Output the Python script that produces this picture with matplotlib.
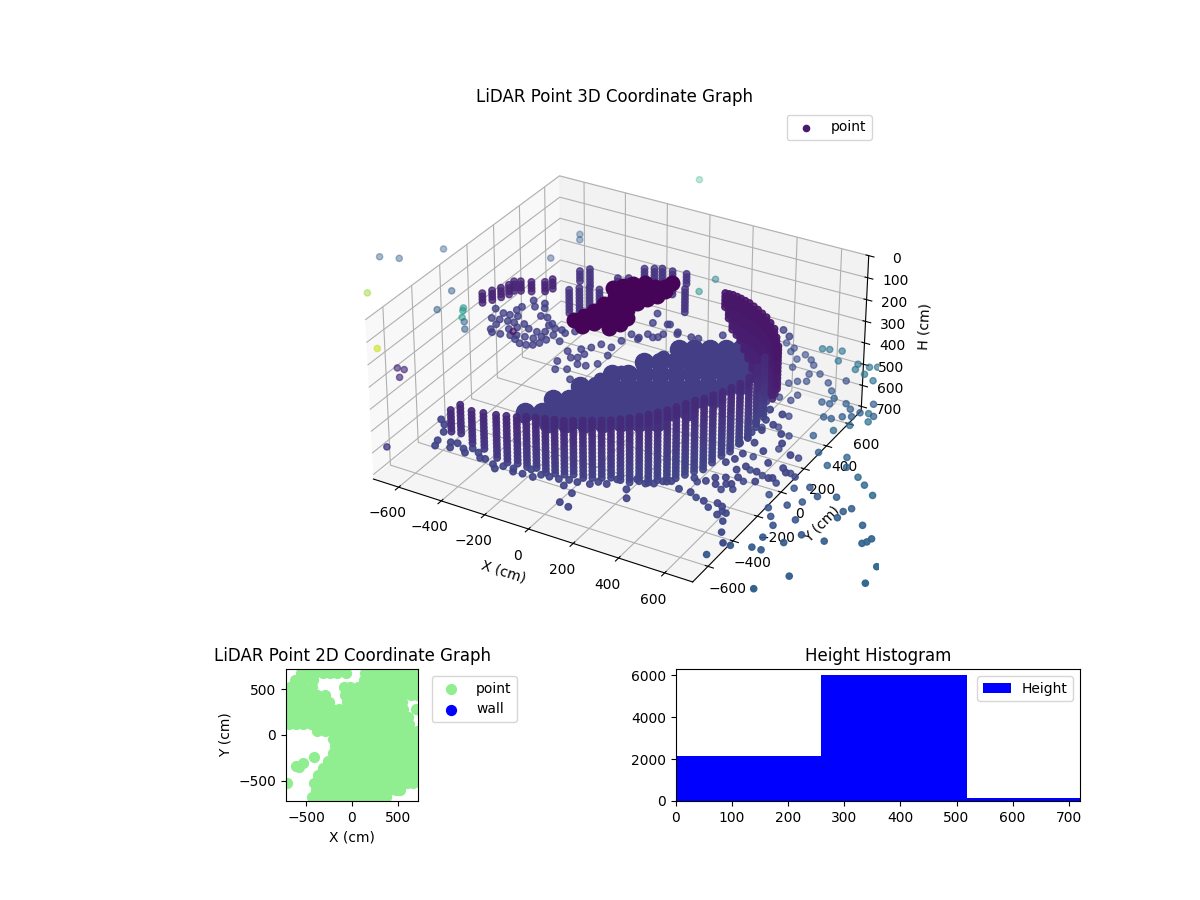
import numpy as np
import matplotlib
matplotlib.use("Agg")
import matplotlib.pyplot as plt

LIM = 720
# ---- histogram
hist_edges = [0, 259, 518, 777]
hist_counts = [2150, 6000, 130]

# ---- 3D: central disc (each mark stands for many scan points)
disc_x = [148,201,255,308,362, 77,130,184,237,291,345,398,452, 16,70,124,177,231,284,338,392,445,499,
          -43,11,64,118,172,225,279,332,386,440,493, -84,-31,23,77,130,184,237,291,345,398,452,
          -126,-73,-19,34,88,142,195,249,302,356,409, -8,51,111,171,230,290,349]
disc_y = [196,229,261,293,325, 42,74,106,138,171,203,235,267, -105,-73,-41,-9,23,55,88,120,152,184,
          -252,-220,-188,-156,-124,-92,-60,-28,5,37,69, -389,-357,-325,-293,-260,-228,-196,-164,-132,-100,-68,
          -526,-493,-461,-429,-397,-365,-333,-301,-269,-236,-204, -550,-514,-479,-443,-407,-372,-336]
rim_x = [384,306,241,179,124,79,39,-6,-26,-47,-73,-117,-21,73,159,245,311,379,429,462,489,485,463]
rim_y = [357,295,243,183,112,24,-75,-163,-268,-370,-478,-555,-526,-495,-450,-376,-298,-191,-84,25,118,236,316]
disc_h = 335

# ---- 3D: wall columns along the front edge
wall_levels = [255,271,287,303,319,335,351,367,383,399,415,431,447,463,479,495,511,527,543,559,575]
wall_tones = [.12,.12,.12,.13,.13,.14,.14,.15,.15,.16,.16,.17,.17,.18,.18,.19,.19,.19,.20,.20,.20]
wall_x = [-309,-299,-237,-190,-141,-103,-65,-35,0,35,69,104,134,165,195,226,256,283,309,336,359,381,405,423,442,461,484,502,522,536,551,559,550,538]
wall_y = [-767,-716,-733,-723,-711,-698,-685,-666,-654,-643,-631,-620,-602,-583,-565,-547,-528,-503,-478,-452,-421,-389,-357,-319,-280,-241,-210,-171,-132,-87,-42,17,103,187]
wall_n = [7,9,10,11,13,14,14,15,15,16,16,16,16,17,17,17,17,18,19,19,20,20,21,21,21,21,21,20,19,19,18,18,18,18]

# ---- 3D: dark curved wall on the right
arc_levels = [170,186,202,218,234,250,266,282,298,314,330,346,362,378,394,410,426,442,458,474,490,506,522]
arc_tones = [.06,.06,.06,.06,.07,.07,.07,.07,.08,.08,.08,.08,.09,.09,.09,.09,.10,.10,.10,.10,.11,.11,.11]
arc_x = [227,244,261,283,304,327,350,378,405,434,463,498,533,572,610]
arc_y = [436,437,438,433,427,419,411,395,379,360,341,308,274,216,158]
arc_n = [5,8,11,12,13,15,17,19,21,22,23,22,21,17,13]

# ---- 3D: dark blob at the back
blob_x = [-87,-69,-58,-51,-44,-35,-9,25,52,86,97,-37,-7,15,39,50,57,71,94,101,-90,-64,-38,-2,63,81,81,-19,-6,3,22]
blob_y = [-225,-177,-117,-50,19,79,113,134,167,188,231,-249,-205,-164,-112,-52,16,70,111,161,82,116,149,181,-207,-160,-106,-121,-49,29,77]
blob_h = 65

# ---- 3D: short columns above the blob
top_x = [-235,-209,-192,-165,-131,-90,-75,-38,-23,11,38,84,143,198]
top_y = [72,106,-83,-50,-29,-22,96,118,218,238,254,255,263,151]
top_n = [4,6,8,8,8,8,6,6,8,8,8,8,4,8]
top_levels = [25,40,55,70,85,100,115,130]

# ---- 3D: left stripes and left swarm
left_x = [-704,-682,-663,-648,-646,-622,-581,-533,-518]
left_y = [78,118,156,193,230,244,261,289,325]
left_levels = [255,270,285,300]
swarm_x = [-582,-554,-535,-520,-511,-509,-491,-455,-505,-485,-502,-498,-471,-456,-447,-425,-415,-382,-349,-320,-297,-282,-272,-268,
           -415,-379,-338,-310,-485,-453,-432,-412,-392,-362,-319,-289,-324,-259,-235,-220,-208,-358,-323,-302,-393,
           -152,-114,-147,-121,-115,-92,-83,-86,-65,-18,-10,-2,39,54,101,83,150,26,4,2,1,-32,-66,-81,-31,
           37,84,107,155,215,245,316,382,411,463,505,549,92]
swarm_y = [-13,-87,-29,-81,-122,-166,-185,-180,-28,-76,20,53,-22,-74,-129,-101,-170,-187,-206,-204,-191,-165,-130,-82,
           -64,-88,-93,-76,122,80,123,89,26,28,-6,-34,-24,-31,-46,-113,-15,-151,-145,-117,-157,
           -165,-125,-252,-311,-203,-189,-153,-94,-52,-53,12,78,57,111,110,220,184,201,278,-116,-193,-228,-234,-288,-349,
           69,98,141,170,176,180,252,276,309,386,411,376,224]
swarm_h = 250

# ---- 3D: scattered points below the wall
base_x = [-417,-430,-504,-472,-444,-378,-359,-351,-310,-289,-280,-244,-218,-197,-151,-128,-109,-67,-56,-17,-5,29,48,83,122,159,194,242,262,297,315,380,412,162,216,209,253,
          379,422,450,472,499,550,599,563,671,611,631,654,723,749,759,688,705,665,705,775,807,820,747,694,674,613,632,640,700,756,823,846,804,737,702,638,643,601,579,537,642,596,594,623,574]
base_y = [-723,-685,-547,-573,-621,-672,-706,-665,-687,-709,-668,-683,-712,-709,-726,-749,-719,-713,-733,-728,-685,-728,-699,-695,-691,-677,-675,-663,-634,-631,-583,-626,-680,-721,-752,-828,-840,
          -544,-555,-539,-508,-491,-524,-522,-427,-551,-424,-386,-426,-539,-551,-609,-405,-395,-365,-341,-335,-288,-280,-270,-257,-295,-268,-230,-180,-125,-192,-197,-220,-99,-39,22,156,68,87,165,213,-87,-24,-116,10,54]
base_h = 470

# ---- 3D: outliers, with viridis position
right_x = [715,742,790,811,889,898,938,965,945,995,1032,616,571,617,678,716,665,743,679,759,795,853,906,745,775,722,
           900,933,905,936,990,1022,1065,1082,1121,960,990,1050,1020,797,801,748,847,851,916,1021,798,791,927,872,907,964,1046,1072,1032,924,917,881,781,830,900,956,974,990,1021,1059]
right_y = [337,346,359,282,297,255,298,314,239,211,259,286,308,255,261,236,214,204,149,133,155,110,158,61,79,32,
           43,-2,-50,-47,-15,-44,-49,33,-48,-145,-142,-91,-109,-98,-49,-97,-212,-305,-346,-475,-337,-437,-450,-548,-639,-652,-588,-603,-675,-724,-792,-814,-810,-908,-946,-945,-950,-1004,-1071,-1131]
right_tone = [.38]*11 + [.24]*15 + [.30]*13 + [.22]*27
right_h = [240]*26 + [228]*13 + [228,229,229,224,222,219,214,222,219,217,215,212,211,211,210,209,209,208,208,209,206,204,203,203,201,199,197]

far_x = [1060,1085,999,1036,950,1021,1090,1128,1157,1224,1268,1324,1055,1102,1154,1216,996,1034,1085,1123,1068,1102,1155,1279,1297,1279,1379,1445,1106,1186,1218,1306,1428,1439,1031,1102,1138,986,1299,1228,1547,1537]
far_y = [41,-15,-137,-73,-208,-306,-372,-285,-348,-389,-426,-474,-573,-539,-581,-550,-657,-736,-687,-641,-783,-831,-759,-624,-592,-671,-671,-734,-917,-911,-835,-831,-777,-760,-1021,-993,-992,-1114,-1089,-1219,-996,-884]
far_tone = [.36,.36,.34,.34,.30,.30,.32,.32,.32,.34,.34,.34,.26,.26,.28,.30,.26,.26,.26,.27,.26,.26,.27,.30,.30,.30,.31,.32,.27,.28,.28,.30,.32,.32,.28,.29,.29,.27,.31,.31,.34,.34]
far_h = 280

stray_x = [-1243,-1164,-1050,-820,-784,-618,-623,-598,-1108,-814,-662,-700,-690,-600,-635,-660,-630,-612,-366,-423,66,58,-435]
stray_y = [128,157,320,28,-135,475,721,678,-159,-519,-139,-70,-90,-215,-165,-607,-604,-663,-1114,-135,654,528,1433]
stray_tone = [.30,.30,.30,.30,.30,.28,.30,.30,.85,.92,.58,.50,.52,.30,.30,.12,.12,.12,.15,.02,.42,.50,.62]
stray_h = 252

# ---- 2D: scan footprint, one list of X per row of Y
rows_y = [680,600,520,440,360,280,200,120,40,-40,-120,-200,-280,-360,-440,-520,-600,-680]
rows_x = [
 [-560,-480,-400,-320,-240,-160,-70,140,220,300,380,460,540,620,700],
 [-620,-540,-430,130,210,290,370,450,530,610,690],
 [-680,-600,-520,-440,-90,-20,60,140,220,300,380,460,540,620,700],
 [-700,-620,-540,-460,-380,-290,-80,0,80,160,240,320,400,480,560,640,710],
 [-700,-620,-540,-460,-380,-310,-250,-60,20,100,180,260,340,420,500,545],
 [-700,-620,-540,-460,-380,-300,-220,-140,-60,20,100,180,260,340,420,500,560,700],
 [-700,-620,-540,-460,-380,-300,-220,-140,-60,20,100,180,260,340,420,500,580,610],
 [-690,-610,-530,-450,-370,-290,-210,-130,-50,30,110,190,270,350,430,510,590,625],
 [-380,-300,-220,-140,-60,20,100,180,260,340,420,500,580,610,710],
 [-210,-130,-50,30,110,190,270,350,430,510,590,670,715],
 [-185,-105,-25,55,135,215,295,375,455,535,615,695],
 [-210,-130,-50,30,110,190,270,350,430,510,590,670,715],
 [-265,-185,-105,-25,55,135,215,295,375,455,535,615,695],
 [-320,-240,-160,-80,0,80,160,240,320,400,480,560,640,715],
 [-373,-290,-210,-130,-50,30,110,190,270,350,430,510,590,670,700],
 [-712,-410,-330,-250,-170,-90,-10,70,150,230,310,390,470,550,600,660],
 [-395,-315,-235,-155,-75,5,85,165,245,325,405,480,525],
 [-440,-360,-280,-200,-120,-40,40,120,200,280,330,375],
]
spot_x = [-575,-610,-530,-410]
spot_y = [-345,-338,-310,-235]

legend_tone = 0.07
cmap = plt.get_cmap("viridis")

# ---- assemble
solid = {"x": [], "y": [], "h": [], "t": []}
back = {"x": [], "y": [], "h": [], "t": []}
shade = {"x": [], "y": [], "h": [], "t": []}
def add(store, px, py, ph, tone):
    store["x"].extend(px); store["y"].extend(py); store["h"].extend(ph); store["t"].extend(tone)

for cx, cy, n in zip(wall_x, wall_y, wall_n):
    add(solid, [cx]*n, [cy]*n, wall_levels[:n], wall_tones[:n])
for cx, cy, n in zip(arc_x, arc_y, arc_n):
    add(solid, [cx]*n, [cy]*n, arc_levels[:n], arc_tones[:n])
add(solid, base_x, base_y, [base_h]*len(base_x), [.20]*len(base_x))
for cx, cy, n in zip(top_x, top_y, top_n):
    add(back, [cx]*n, [cy]*n, top_levels[:n], [.15]*n)
for cx, cy in zip(left_x, left_y):
    add(back, [cx]*len(left_levels), [cy]*len(left_levels), left_levels, [.10]*len(left_levels))
add(back, swarm_x, swarm_y, [swarm_h]*len(swarm_x), [.19]*len(swarm_x))
add(shade, right_x, right_y, right_h, right_tone)
add(shade, far_x, far_y, [far_h]*len(far_x), far_tone)
add(shade, stray_x, stray_y, [stray_h]*len(stray_x), stray_tone)

fig = plt.figure(figsize=(12, 9), dpi=100)

ax3 = fig.add_axes([150/1200, 262/900, 930/1200, 528/900], projection="3d")
ax3.computed_zorder = False
ax3.set_box_aspect((1, 1, 0.5))
ax3.scatter(back["x"], back["y"], back["h"], c=back["t"], s=22, cmap="viridis", vmin=0, vmax=1,
            depthshade=False, alpha=.78, zorder=1)
ax3.scatter(disc_x, disc_y, [disc_h]*len(disc_x), s=170, color=cmap(.18), depthshade=False, zorder=2)
ax3.scatter(rim_x, rim_y, [disc_h]*len(rim_x), s=80, color=cmap(.18), depthshade=False, zorder=2)
ax3.scatter(shade["x"], shade["y"], shade["h"], c=shade["t"], s=20, cmap="viridis", vmin=0, vmax=1, zorder=3)
ax3.scatter(solid["x"], solid["y"], solid["h"], c=solid["t"], s=22, cmap="viridis", vmin=0, vmax=1,
            depthshade=False, alpha=.9, zorder=4)
ax3.scatter(blob_x, blob_y, [blob_h]*len(blob_x), s=110, color=cmap(.01), depthshade=False, zorder=5)
ax3.scatter([], [], [], s=20, color=cmap(legend_tone), label="point")
ax3.set_xlim(-LIM, LIM); ax3.set_ylim(-LIM, LIM); ax3.set_zlim(LIM, 0)
ax3.set_xticks(range(-600, 601, 200)); ax3.set_yticks(range(-600, 601, 200))
ax3.set_zticks(range(0, 701, 100))
ax3.set_xlabel("X (cm)"); ax3.set_ylabel("Y (cm)"); ax3.set_zlabel("H (cm)")
ax3.set_title("LiDAR Point 3D Coordinate Graph")
ax3.legend(loc="upper right", bbox_to_anchor=(1, 1.004))

ax2 = fig.add_axes([150/1200, 99/900, 404/1200, 132/900])
pts_x = [v for row in rows_x for v in row] + spot_x
pts_y = [y for y, row in zip(rows_y, rows_x) for _ in row] + spot_y
ax2.scatter(pts_x, pts_y, s=50, color="lightgreen", label="point")
ax2.scatter([], [], s=50, color="blue", label="wall")
ax2.set_xlim(-LIM, LIM); ax2.set_ylim(-LIM, LIM); ax2.set_aspect("equal")
ax2.set_xticks([-500, 0, 500]); ax2.set_yticks([-500, 0, 500])
ax2.set_xlabel("X (cm)"); ax2.set_ylabel("Y (cm)")
ax2.set_title("LiDAR Point 2D Coordinate Graph")
ax2.legend(loc="upper left", bbox_to_anchor=(1.05, 1))

ax1 = fig.add_axes([676/1200, 99/900, 404/1200, 132/900])
ax1.hist(hist_edges[:-1], bins=hist_edges, weights=hist_counts, color="blue", label="Height")
ax1.set_xlim(0, LIM)
ax1.set_title("Height Histogram")
ax1.legend(loc="upper right")

fig.savefig("out.png", dpi=100)
